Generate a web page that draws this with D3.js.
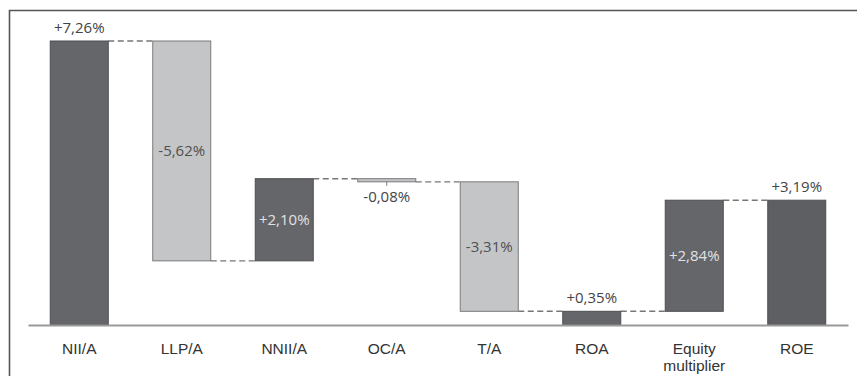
<!DOCTYPE html>
<html>
<head>
<meta charset="utf-8">
<script src="https://cdn.jsdelivr.net/npm/d3@7"></script>
<style>
  html, body { margin: 0; padding: 0; background: #fff; }
  svg { display: block; font-family: "Open Sans", sans-serif; }
</style>
</head>
<body>
<div id="chart"></div>
<script>
// waterfall: ROA / ROE decomposition
var categories = ['NII/A', 'LLP/A', 'NNII/A', 'OC/A', 'T/A', 'ROA', 'Equity multiplier', 'ROE'];
var values = [7.26, -5.62, 2.10, -0.08, -3.31, 0.35, 2.84, 3.19];
var isTotal = [false, false, false, false, false, true, false, true];
var labelPos = ['top', 'mid', 'mid', 'below', 'mid', 'top', 'mid', 'top'];

var width = 857, height = 376;
var baseY = 325;

// running start / end of each step
var running = 0;
var steps = categories.map(function(c, i) {
  var s, e;
  if (isTotal[i]) { s = 0; e = values[i]; running = e; }
  else { s = running; e = running + values[i]; running = e; }
  return { cat: c, v: values[i], start: s, end: e, total: isTotal[i], pos: labelPos[i] };
});

var loc = d3.formatLocale({ decimal: ',', thousands: '.', grouping: [3], currency: ['', '%'], minus: '-' });
var fmt = function(v) { return loc.format('+.2f')(v) + '%'; };

var x = d3.scaleBand()
  .domain(categories)
  .range([28, 848])
  .paddingInner(0.434)
  .paddingOuter(0.217);

var y = d3.scaleLinear()
  .domain([0, 7.26])
  .range([baseY, 41]);

var svg = d3.select('#chart').append('svg')
  .attr('width', width)
  .attr('height', height);

// frame (only top and left visible)
svg.append('path')
  .attr('d', 'M9.5,' + height + 'V10.5H' + width)
  .attr('fill', 'none')
  .attr('stroke', '#555')
  .attr('stroke-width', 1.6);

// connectors
svg.selectAll('line.conn')
  .data(steps.slice(0, -1))
  .enter().append('line')
  .attr('class', 'conn')
  .attr('x1', function(d) { return x(d.cat) + x.bandwidth(); })
  .attr('x2', function(d, i) { return x(categories[i + 1]); })
  .attr('y1', function(d) { return y(d.end); })
  .attr('y2', function(d) { return y(d.end); })
  .attr('stroke', '#777')
  .attr('stroke-width', 1.4)
  .attr('stroke-dasharray', '6,3.5');

// bars
svg.selectAll('rect.bar')
  .data(steps)
  .enter().append('rect')
  .attr('class', 'bar')
  .attr('x', function(d) { return x(d.cat); })
  .attr('width', x.bandwidth())
  .attr('y', function(d) { return y(Math.max(d.start, d.end)); })
  .attr('height', function(d) { return Math.abs(y(d.start) - y(d.end)); })
  .attr('fill', function(d) { return d.v < 0 ? '#c4c5c7' : (d.cat === 'ROE' ? '#5e5f62' : '#656669'); })
  .attr('stroke', function(d) { return d.v < 0 ? '#7a7a7c' : '#4e4f52'; })
  .attr('stroke-width', 1);

// small tick under OC/A label
svg.selectAll('line.tick-mark')
  .data(steps.filter(function(d) { return d.pos === 'below'; }))
  .enter().append('line')
  .attr('x1', function(d) { return x(d.cat) + x.bandwidth() / 2; })
  .attr('x2', function(d) { return x(d.cat) + x.bandwidth() / 2; })
  .attr('y1', function(d) { return y(Math.min(d.start, d.end)); })
  .attr('y2', function(d) { return y(Math.min(d.start, d.end)) + 4; })
  .attr('stroke', '#777')
  .attr('stroke-width', 1);

// value labels
svg.selectAll('text.val')
  .data(steps)
  .enter().append('text')
  .attr('class', 'val')
  .attr('text-anchor', 'middle')
  .attr('font-size', 15)
  .attr('x', function(d) { return x(d.cat) + x.bandwidth() / 2; })
  .attr('y', function(d) {
    var top = y(Math.max(d.start, d.end)), bot = y(Math.min(d.start, d.end));
    if (d.pos === 'top') return top - 8;
    if (d.pos === 'below') return bot + 20;
    return (top + bot) / 2 + 5;
  })
  .attr('fill', function(d) {
    if (d.pos !== 'mid') return '#444';
    return d.v < 0 ? '#505050' : '#e2e2e2';
  })
  .text(function(d) { return fmt(d.v); });

// x axis
var axis = svg.append('g')
  .attr('transform', 'translate(0,' + baseY + ')')
  .call(d3.axisBottom(x).tickSize(0).tickSizeOuter(0));

axis.select('.domain').attr('stroke', '#9a9a9a').attr('stroke-width', 2);
axis.selectAll('.tick text').remove();
axis.selectAll('.tick').append('text')
  .attr('fill', '#333')
  .attr('font-size', 15.5)
  .attr('text-anchor', 'middle')
  .each(function(d) {
    var words = d.split(' ');
    var t = d3.select(this);
    words.forEach(function(w, i) {
      t.append('tspan').attr('x', 0).attr('y', 29 + i * 17).text(w);
    });
  });
</script>
</body>
</html>
